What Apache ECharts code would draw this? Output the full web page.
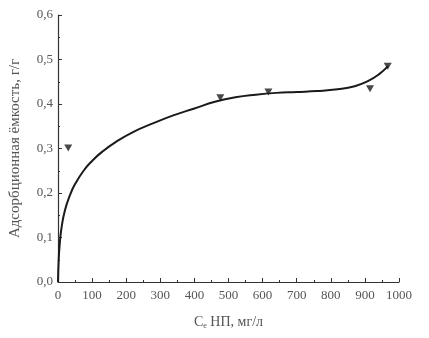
<!DOCTYPE html>
<html>
<head>
<meta charset="utf-8">
<script src="https://cdn.jsdelivr.net/npm/echarts@6/dist/echarts.min.js"></script>
<style>
  html, body { margin: 0; padding: 0; background: #fff; }
  #main { width: 429px; height: 338px; }
</style>
</head>
<body>
<div id="main"></div>
<script>
// кривая
var curveX = [0, 2, 5, 10, 20, 35, 50, 75, 100, 130, 170, 220, 280, 340, 400, 460, 520, 580, 640, 700, 760, 820, 870, 910, 940, 968];
var curveY = [0, 0.05, 0.085, 0.12, 0.16, 0.195, 0.22, 0.25, 0.272, 0.293, 0.315, 0.337, 0.357, 0.375, 0.39, 0.405, 0.415, 0.421, 0.425, 0.427, 0.429, 0.433, 0.44, 0.452, 0.466, 0.485];
// экспериментальные точки
var pointX = [30, 476, 617, 915, 967];
var pointY = [0.301, 0.414, 0.427, 0.434, 0.485];

var xTicks = [0, 100, 200, 300, 400, 500, 600, 700, 800, 900, 1000];
var yTicks = [0, 0.1, 0.2, 0.3, 0.4, 0.5, 0.6];

function pairs(xs, ys) {
  var out = [];
  for (var i = 0; i < xs.length; i++) out.push([xs[i], ys[i]]);
  return out;
}

var font = '"Liberation Serif", "DejaVu Serif", serif';
var chart = echarts.init(document.getElementById('main'));

var option = {
  animation: false,
  grid: { left: 58, right: 30, top: 15, bottom: 56 },
  xAxis: {
    type: 'value',
    min: xTicks[0],
    max: xTicks[xTicks.length - 1],
    interval: 100,
    name: '{c|C}{s|e}{c| НП, мг/л}',
    nameLocation: 'middle',
    nameGap: 32,
    nameTextStyle: {
      fontFamily: font,
      color: '#555',
      rich: {
        c: { fontFamily: font, fontSize: 14, color: '#555' },
        s: { fontFamily: font, fontSize: 8, color: '#555', padding: [8, 0, 0, 0] }
      }
    },
    axisLine: { lineStyle: { color: '#333', width: 1.2 } },
    axisTick: { inside: true, length: 4, lineStyle: { color: '#333' } },
    minorTick: { show: true, splitNumber: 2, length: 2, lineStyle: { color: '#333' } },
    axisLabel: {
      fontFamily: font, fontSize: 13, color: '#555', margin: 7,
      formatter: function (v) { return String(v); }
    },
    splitLine: { show: false }
  },
  yAxis: {
    type: 'value',
    min: yTicks[0],
    max: yTicks[yTicks.length - 1],
    interval: 0.1,
    name: 'Адсорбционная ёмкость, г/г',
    nameLocation: 'middle',
    nameGap: 35,
    nameTextStyle: { fontFamily: font, fontSize: 15, color: '#555' },
    axisLine: { show: true, lineStyle: { color: '#333', width: 1.2 } },
    axisTick: { show: true, inside: true, length: 4, lineStyle: { color: '#333' } },
    minorTick: { show: true, splitNumber: 2, length: 2, lineStyle: { color: '#333' } },
    axisLabel: {
      fontFamily: font, fontSize: 13, color: '#555', margin: 5,
      formatter: function (v) { return v.toFixed(1).replace('.', ','); }
    },
    splitLine: { show: false }
  },
  series: [
    {
      type: 'line',
      data: pairs(curveX, curveY),
      smooth: 0.5,
      showSymbol: false,
      lineStyle: { color: '#1a1a1a', width: 2 },
      z: 2
    },
    {
      type: 'scatter',
      data: pairs(pointX, pointY),
      symbol: 'triangle',
      symbolRotate: 180,
      symbolSize: [8, 7],
      itemStyle: { color: '#1a1a1a' },
      z: 3
    }
  ]
};

chart.setOption(option);
</script>
</body>
</html>
